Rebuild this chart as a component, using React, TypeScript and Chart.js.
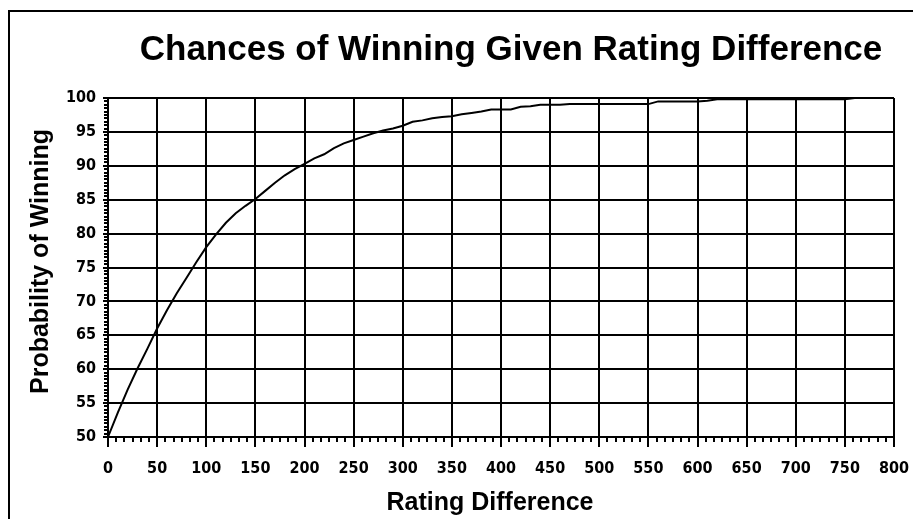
import React, { useEffect, useRef } from "react";
import { Chart, registerables } from "chart.js";

Chart.register(...registerables);

const chartTitle = "Chances of Winning Given Rating Difference";
const xAxisTitle = "Rating Difference";
const yAxisTitle = "Probability of Winning";

const ratingDiff = [
  0, 10, 20, 30, 40, 50, 60, 70, 80, 90, 100, 110, 120, 130, 140, 150, 160, 170, 180, 190,
  200, 210, 220, 230, 240, 250, 260, 270, 280, 290, 300, 310, 320, 330, 340, 350, 360, 370, 380, 390,
  400, 410, 420, 430, 440, 450, 460, 470, 480, 490, 500, 510, 520, 530, 540, 550, 560, 570, 580, 590,
  600, 610, 620, 630, 640, 650, 660, 670, 680, 690, 700, 710, 720, 730, 740, 750, 760, 770, 780, 790, 800,
];
const winProbability = [
  50.0, 53.6, 57.0, 60.1, 63.0, 66.0, 68.7, 71.2, 73.5, 75.8, 78.0, 79.9, 81.6, 83.0, 84.1, 85.1, 86.3, 87.5, 88.6, 89.5,
  90.3, 91.1, 91.7, 92.6, 93.3, 93.8, 94.3, 94.8, 95.2, 95.5, 95.9, 96.5, 96.7, 97.0, 97.2, 97.3, 97.6, 97.8, 98.0, 98.3,
  98.3, 98.3, 98.7, 98.8, 99.0, 99.0, 99.0, 99.1, 99.1, 99.1, 99.1, 99.1, 99.1, 99.1, 99.1, 99.1, 99.5, 99.5, 99.5, 99.5,
  99.5, 99.6, 99.8, 99.8, 99.8, 99.8, 99.8, 99.8, 99.8, 99.8, 99.8, 99.8, 99.8, 99.8, 99.8, 99.8, 100, 100, 100, 100, 100,
];

const xMin = 0;
const xMax = 800;
const xMajorStep = 50;
const xMinorPerMajor = 6;
const yMin = 50;
const yMax = 100;
const yMajorStep = 5;
const yMinorStep = 0.5;

const tickFont = { family: "'DejaVu Sans Condensed', 'Liberation Sans Narrow', sans-serif", size: 16, weight: "bold" as const };
const titleFontFamily = "'Liberation Sans', Arial, sans-serif";

const titlesPlugin = {
  id: "customTitles",
  afterDraw(chart: any) {
    const { ctx } = chart;
    ctx.save();
    ctx.fillStyle = "#000";
    ctx.textAlign = "center";
    // main title
    ctx.font = `bold 35px ${titleFontFamily}`;
    ctx.textBaseline = "alphabetic";
    ctx.fillText(chartTitle, 501, 48);
    // x axis title
    ctx.font = `bold 25px ${titleFontFamily}`;
    ctx.textBaseline = "alphabetic";
    ctx.fillText(xAxisTitle, 480, 498);
    // y axis title
    ctx.translate(31.5, 249.5);
    ctx.rotate(-Math.PI / 2);
    ctx.textBaseline = "middle";
    ctx.fillText(yAxisTitle, 0, 0);
    ctx.restore();
  },
};

const minorTicksPlugin = {
  id: "minorTicks",
  afterDraw(chart: any) {
    const { ctx, chartArea, scales } = chart;
    const xs = scales.x;
    const ys = scales.y;
    ctx.save();
    ctx.strokeStyle = "#000";
    ctx.lineWidth = 2;
    ctx.beginPath();
    const xStep = xMajorStep / xMinorPerMajor;
    for (let i = 0; i <= (xMax - xMin) / xStep; i++) {
      if (i % xMinorPerMajor === 0) continue;
      const px = Math.round(xs.getPixelForValue(xMin + i * xStep));
      ctx.moveTo(px, chartArea.bottom);
      ctx.lineTo(px, chartArea.bottom + 5);
    }
    const nY = Math.round((yMax - yMin) / yMinorStep);
    const perMajor = Math.round(yMajorStep / yMinorStep);
    for (let i = 0; i <= nY; i++) {
      if (i % perMajor === 0) continue;
      const py = Math.round(ys.getPixelForValue(yMin + i * yMinorStep));
      ctx.moveTo(chartArea.left - 4, py);
      ctx.lineTo(chartArea.left, py);
    }
    ctx.stroke();
    ctx.restore();
  },
};

export default function App() {
  const canvasRef = useRef<HTMLCanvasElement | null>(null);

  useEffect(() => {
    if (!canvasRef.current) return;
    const points = ratingDiff.map((x, i) => ({ x, y: winProbability[i] }));
    const chart = new Chart(canvasRef.current, {
      type: "line",
      data: {
        datasets: [
          {
            data: points,
            borderColor: "#000",
            borderWidth: 2,
            pointRadius: 0,
            tension: 0,
            fill: false,
            clip: 4,
          },
        ],
      },
      options: {
        animation: false,
        responsive: false,
        maintainAspectRatio: false,
        layout: { padding: { left: 10, right: 118, top: 86, bottom: 0 } },
        plugins: {
          legend: { display: false },
          tooltip: { enabled: false },
          title: { display: false },
        },
        scales: {
          x: {
            type: "linear",
            min: xMin,
            max: xMax,
            afterFit: (s: any) => {
              s.height = 82;
            },
            ticks: {
              stepSize: xMajorStep,
              color: "#000",
              font: tickFont,
              padding: 12,
              maxRotation: 0,
              autoSkip: false,
            },
            grid: { color: "#000", lineWidth: 2, tickLength: 10, tickColor: "#000" },
            border: { color: "#000", width: 2 },
            title: { display: false },
          },
          y: {
            type: "linear",
            min: yMin,
            max: yMax,
            afterFit: (s: any) => {
              s.width = 88;
            },
            ticks: {
              stepSize: yMajorStep,
              color: "#000",
              font: tickFont,
              padding: 7,
            },
            grid: { color: "#000", lineWidth: 2, tickLength: 5, tickColor: "#000" },
            border: { color: "#000", width: 2 },
            title: { display: false },
          },
        },
      },
      plugins: [minorTicksPlugin, titlesPlugin],
    });
    return () => chart.destroy();
  }, []);

  return (
    <div
      style={{
        position: "fixed",
        left: 8,
        top: 10,
        width: 905,
        height: 509,
        borderLeft: "2px solid #000",
        borderTop: "2px solid #000",
        overflow: "hidden",
        background: "#fff",
      }}
    >
      <canvas ref={canvasRef} width={1002} height={507} style={{ display: "block", width: 1002, height: 507 }} />
    </div>
  );
}
